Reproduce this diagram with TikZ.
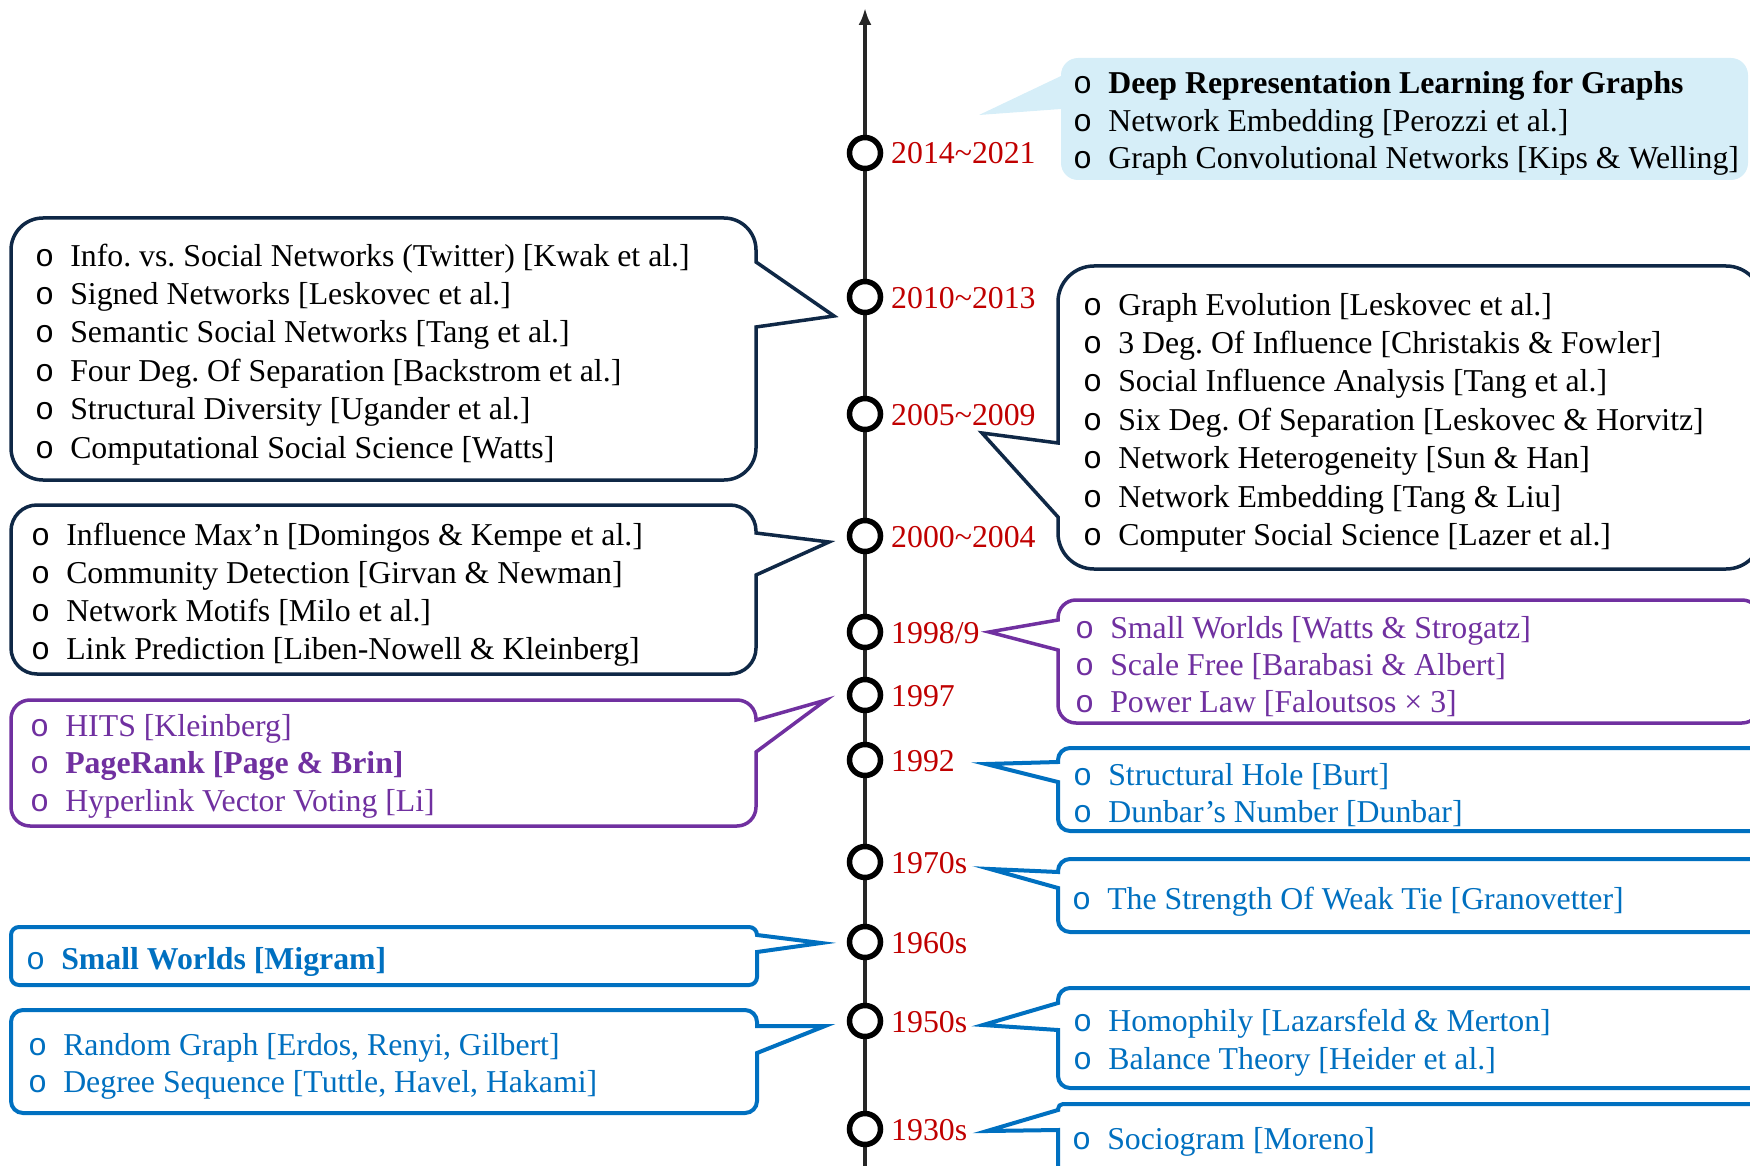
\documentclass[tikz,border=0pt]{standalone}
\usepackage{fontspec}
\setmainfont{Liberation Serif}
\newfontfamily\bulfont{Liberation Mono}
\usetikzlibrary{arrows.meta}
\definecolor{navy}{RGB}{15,40,70}
\definecolor{purp}{RGB}{112,48,160}
\definecolor{blu}{RGB}{0,112,192}
\definecolor{yr}{RGB}{192,0,0}
\definecolor{lbl}{RGB}{214,238,248}
\definecolor{axisc}{RGB}{38,38,38}
\newcommand\bu{{\bulfont o}\hspace{16pt}}
% callout with pointer on the right edge: style, x1, y1, x2, y2, pointer top, pointer bottom, tip, radius
\newcommand\calloutL[9]{\draw[#1] (#4,#6) -- (#8) -- (#4,#7) -- (#4,#5-#9) arc[start angle=0,end angle=90,radius=#9] -- (#2+#9,#5) arc[start angle=90,end angle=180,radius=#9] -- (#2,#3+#9) arc[start angle=180,end angle=270,radius=#9] -- (#4-#9,#3) arc[start angle=270,end angle=360,radius=#9] -- cycle;}
% callout with pointer on the left edge
\newcommand\calloutR[9]{\draw[#1] (#2,#7) -- (#8) -- (#2,#6) -- (#2,#3+#9) arc[start angle=180,end angle=270,radius=#9] -- (#4-#9,#3) arc[start angle=270,end angle=360,radius=#9] -- (#4,#5-#9) arc[start angle=0,end angle=90,radius=#9] -- (#2+#9,#5) arc[start angle=90,end angle=180,radius=#9] -- cycle;}
\frenchspacing
\begin{document}
\begin{tikzpicture}[x=1pt,y=-1pt,
  every node/.style={inner sep=0pt, font=\fontsize{31.8}{38}\selectfont},
  item/.style={anchor=base west},
  yearlab/.style={anchor=base west, text=yr},
  tickc/.style={circle, draw=black, line width=5.5pt, fill=white, minimum size=31pt},
  lbox/.style={fill=lbl, draw=none},
  navybox/.style={draw=navy, line width=3.5pt, fill=white, line join=miter, miter limit=30},
  purpbox/.style={draw=purp, line width=3.5pt, fill=white, line join=miter, miter limit=30},
  blubox/.style={draw=blu, line width=4pt, fill=white, line join=miter, miter limit=30},
  axisline/.style={draw=axisc, line width=4pt, -{Latex[length=17pt,width=13pt]}}]
\useasboundingbox (0,0) rectangle (1750,1166);

% callout boxes
\calloutR{lbox}{1061}{58}{1748}{180}{76}{109}{979,115}{17}
\calloutL{navybox}{11}{218}{756}{480}{262}{327}{834,316}{32}
\calloutR{navybox}{1058}{266}{1762}{569}{443}{517}{982,433}{36}
\calloutL{navybox}{11}{505}{756}{674}{533}{575}{829,542}{26}
\calloutL{purpbox}{11}{700}{756}{826}{720}{752}{826,700}{19}
\calloutR{purpbox}{1058}{600}{1760}{723}{620}{650}{989,632}{18}
\calloutR{blubox}{1058}{748}{1790}{831}{762}{782}{986,764}{12}
\calloutR{blubox}{1058}{859}{1790}{932}{872}{888}{990,869}{12}
\calloutL{blubox}{11}{927}{757}{985}{935}{952}{821,943}{8}
\calloutL{blubox}{11}{1010}{757}{1113}{1026}{1053}{825,1026}{12}
\calloutR{blubox}{1058}{988}{1790}{1088}{1003}{1030}{983,1025}{12}
\calloutR{blubox}{1058}{1104}{1790}{1200}{1110}{1130}{987,1131}{5}

% axis
\coordinate (axbot) at (865,1166);
\coordinate (axtop) at (865,8);
\draw[axisline] (axbot) -- (axtop);

% ticks and years
\foreach \yy/\lab [count=\k] in {153/2014\textasciitilde 2021, 297/2010\textasciitilde 2013, 414/2005\textasciitilde 2009, 536/2000\textasciitilde 2004, 632/1998{/}9, 695/1997, 760/1992, 862/1970s, 942/1960s, 1021/1950s, 1129/1930s}{
  \node[tickc] (t\k) at (865,\yy) {};
  \node[yearlab] (y\k) at (891,\yy+11) {\lab};
}

% texts
\foreach \t [count=\i from 0] in {\textbf{Deep Representation Learning for Graphs}, Network Embedding [Perozzi et al.], Graph Convolutional Networks [Kips \& Welling]}
  \node[item] (b1-\i) at (1073,94+37.5*\i) {\bu\t};
\foreach \t [count=\i from 0] in {Info. vs. Social Networks (Twitter) [Kwak et al.], Signed Networks [Leskovec et al.], Semantic Social Networks [Tang et al.], Four Deg. Of Separation [Backstrom et al.], Structural Diversity [Ugander et al.], Computational Social Science [Watts]}
  \node[item] (b2-\i) at (35,266+38.4*\i) {\bu\t};
\foreach \t [count=\i from 0] in {Graph Evolution [Leskovec et al.], 3 Deg. Of Influence [Christakis \& Fowler], Social Influence Analysis [Tang et al.], Six Deg. Of Separation [Leskovec \& Horvitz], Network Heterogeneity [Sun \& Han], Network Embedding [Tang \& Liu], Computer Social Science [Lazer et al.]}
  \node[item] (b3-\i) at (1083,315+38.4*\i) {\bu\t};
\foreach \t [count=\i from 0] in {Influence Max’n [Domingos \& Kempe et al.], Community Detection [Girvan \& Newman], Network Motifs [Milo et al.], Link Prediction [Liben-Nowell \& Kleinberg]}
  \node[item] (b4-\i) at (31,545+38*\i) {\bu\t};
\foreach \t [count=\i from 0] in {HITS [Kleinberg], \textbf{PageRank [Page \& Brin]}, Hyperlink Vector Voting [Li]}
  \node[item, text=purp] (b5-\i) at (30,736+37.5*\i) {\bu\t};
\foreach \t [count=\i from 0] in {Small Worlds [Watts \& Strogatz], Scale Free [Barabasi \& Albert], Power Law [Faloutsos × 3]}
  \node[item, text=purp] (b6-\i) at (1075,638+37.3*\i) {\bu\t};
\foreach \t [count=\i from 0] in {Structural Hole [Burt], Dunbar’s Number [Dunbar]}
  \node[item, text=blu] (b7-\i) at (1073,785+37.5*\i) {\bu\t};
\node[item, text=blu] (b8) at (1072,909) {\bu The Strength Of Weak Tie [Granovetter]};
\node[item, text=blu] (b9) at (26,969) {\bu\textbf{Small Worlds [Migram]}};
\foreach \t [count=\i from 0] in {{Random Graph [Erdos, Renyi, Gilbert]}, {Degree Sequence [Tuttle, Havel, Hakami]}}
  \node[item, text=blu] (b10-\i) at (28,1055+37*\i) {\bu\t};
\foreach \t [count=\i from 0] in {Homophily [Lazarsfeld \& Merton], Balance Theory [Heider et al.]}
  \node[item, text=blu] (b11-\i) at (1073,1031+38.5*\i) {\bu\t};
\node[item, text=blu] (b12) at (1072,1149) {\bu Sociogram [Moreno]};
\end{tikzpicture}
\end{document}
